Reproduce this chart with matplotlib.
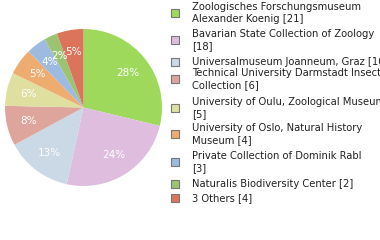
import matplotlib
matplotlib.use("Agg")
import matplotlib.pyplot as plt
from matplotlib.patches import Rectangle

names = [
    "Zoologisches Forschungsmuseum\nAlexander Koenig [21]",
    "Bavarian State Collection of Zoology\n[18]",
    "Universalmuseum Joanneum, Graz [10]",
    "Technical University Darmstadt Insect\nCollection [6]",
    "University of Oulu, Zoological Museum\n[5]",
    "University of Oslo, Natural History\nMuseum [4]",
    "Private Collection of Dominik Rabl\n[3]",
    "Naturalis Biodiversity Center [2]",
    "3 Others [4]",
]
values = [21, 18, 10, 6, 5, 4, 3, 2, 4]
colors = ["#9ed95b", "#dfbddf", "#cbd8e5", "#dea59d", "#dfe0a0",
          "#eeac70", "#9dbbe0", "#9cc370", "#dc745c"]
legend_y = [13, 40, 62, 79, 108, 134, 162, 184, 198]

W, H = 380, 240
fig = plt.figure(figsize=(W / 100, H / 100), dpi=100)

cx, cy, r = 83.5, 107.5, 78.5
ax = fig.add_axes([(cx - r) / W, (H - cy - r) / H, 2 * r / W, 2 * r / H])
total = sum(values)
wedges, texts = ax.pie(values, colors=colors, startangle=90, counterclock=False,
                       radius=1.0, wedgeprops=dict(linewidth=0))
import math
for w, v in zip(wedges, values):
    ang = math.radians((w.theta1 + w.theta2) / 2)
    d = 0.72
    ax.text(d * math.cos(ang), d * math.sin(ang), f"{int(100 * v / total)}%",
            color="white", ha="center", va="center", fontsize=7.5,
            family="DejaVu Sans")
ax.set_xlim(-1, 1)
ax.set_ylim(-1, 1)
ax.set_aspect("auto")
ax.axis("off")

for name, col, y in zip(names, colors, legend_y):
    s = 8
    fig.patches.append(Rectangle(((175 - s / 2) / W, (H - y - s / 2) / H), s / W, s / H,
                                 transform=fig.transFigure, facecolor=col,
                                 edgecolor="#777777", linewidth=0.8))
    fig.text(192 / W, (H - y) / H, name, ha="left", va="center", fontsize=7.2,
             family="DejaVu Sans", color="#222222", linespacing=1.15)

fig.savefig("out.png", dpi=100)
